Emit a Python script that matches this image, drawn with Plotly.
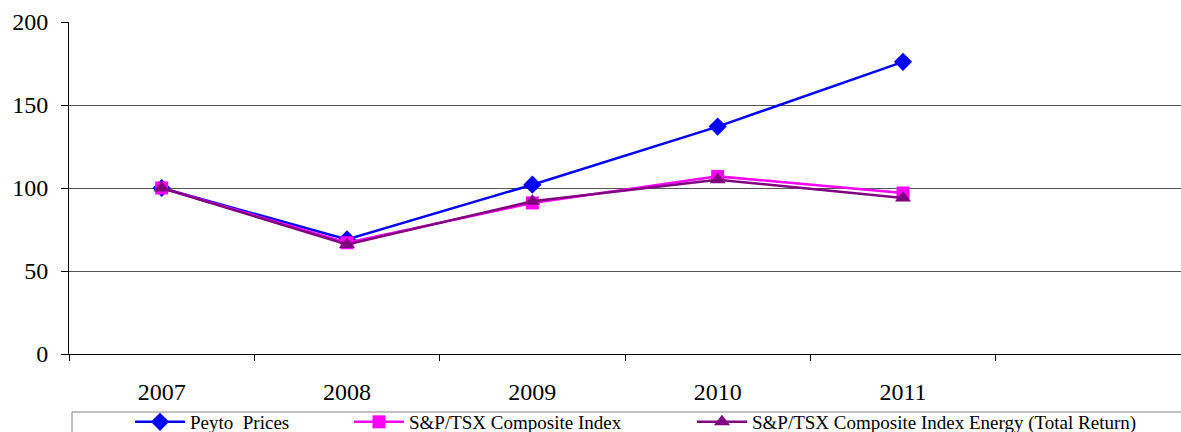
import plotly.graph_objects as go

years = ["2007", "2008", "2009", "2010", "2011"]
categories = years + [" "]
peyto = [100, 69, 102, 137, 176]
sptsx = [100, 67, 91, 107, 97]
energy = [100, 66, 92, 105, 94]

FONT = "Liberation Serif, Times New Roman, serif"

W, H = 1181, 432
L, R, T, B = 69, 0, 22, 78
pw = W - L - R
ph = H - T - B

def px(x):
    return (x - L) / pw

def py(y):
    return (H - B - y) / ph

fig = go.Figure()
fig.add_trace(go.Scatter(x=years, y=peyto, name="Peyto  Prices", mode="lines+markers",
                         line=dict(color="#0000FF", width=2.5),
                         marker=dict(symbol="diamond", size=14, color="#0000FF"),
                         legend="legend"))
fig.add_trace(go.Scatter(x=years, y=sptsx, name="S&P/TSX Composite Index", mode="lines+markers",
                         line=dict(color="#FF00FF", width=2.5),
                         marker=dict(symbol="square", size=13, color="#FF00FF"),
                         legend="legend2"))
fig.add_trace(go.Scatter(x=years, y=energy, name="S&P/TSX Composite Index Energy (Total Return)",
                         mode="lines+markers",
                         line=dict(color="#800080", width=2.5),
                         marker=dict(symbol="triangle-up", size=14, color="#800080"),
                         legend="legend3"))

def leg(xpix):
    return dict(orientation="h", xref="container", yref="container",
                x=xpix / W, y=(H - 422) / H, xanchor="left", yanchor="middle",
                font=dict(family=FONT, size=19, color="black"),
                bgcolor="rgba(0,0,0,0)", borderwidth=0, itemwidth=50)

fig.update_layout(
    width=W, height=H,
    margin=dict(l=L, r=R, t=T, b=B),
    paper_bgcolor="white", plot_bgcolor="white",
    font=dict(family=FONT, color="black"),
    showlegend=True,
    legend=leg(130), legend2=leg(349), legend3=leg(692),
    xaxis=dict(type="category", categoryorder="array", categoryarray=categories,
               range=[-0.5, 5.5], tickson="boundaries", ticks="outside", ticklen=6,
               tickcolor="black", showline=True, linecolor="black", linewidth=1,
               showgrid=False, ticklabelstandoff=16, automargin=False,
               tickfont=dict(family=FONT, size=24, color="black")),
    yaxis=dict(range=[0, 200], tickvals=[0, 50, 100, 150, 200], ticks="outside", ticklen=7,
               tickcolor="black", showline=True, linecolor="black", linewidth=1,
               showgrid=True, gridcolor="#555555", gridwidth=1, zeroline=False,
               ticklabelstandoff=8, automargin=False,
               tickfont=dict(family=FONT, size=24, color="black")),
)

fig.add_shape(type="rect", xref="paper", yref="paper",
              x0=px(72), x1=px(1190), y0=py(412), y1=py(440),
              line=dict(color="#808080", width=1), fillcolor="rgba(0,0,0,0)")

fig.write_html("out.html", config={"displayModeBar": False},
               post_script="document.body.style.margin='0';document.body.style.overflow='hidden';")
